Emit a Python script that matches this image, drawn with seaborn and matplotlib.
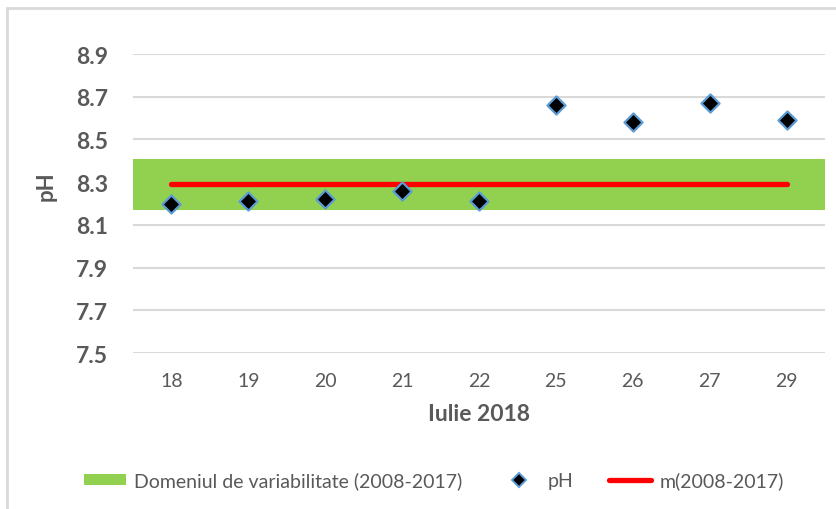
import numpy as np
import pandas as pd
import matplotlib.pyplot as plt
import seaborn as sns
from matplotlib.patches import Patch, Rectangle
from matplotlib.lines import Line2D

# data
days = ["18", "19", "20", "21", "22", "25", "26", "27", "29"]
ph_values = [8.20, 8.21, 8.22, 8.26, 8.21, 8.66, 8.58, 8.67, 8.59]
mean_2008_2017 = 8.29
band_low = 8.17
band_high = 8.41
y_ticks = [7.5, 7.7, 7.9, 8.1, 8.3, 8.5, 8.7, 8.9]

GREEN = "#92D050"
RED = "#FF0000"
GREY_TXT = "#595959"
GRID = "#D9D9D9"

sns.set_style("white")
plt.rcParams["font.family"] = ["Lato", "DejaVu Sans"]

df = pd.DataFrame({"day": days, "ph": ph_values, "mean": [mean_2008_2017] * len(days)})

fig = plt.figure(figsize=(8.37, 5.10), dpi=100)
ax = fig.add_axes([133 / 837, 1 - 354 / 510, (825 - 133) / 837, (354 - 55) / 510])

ax.axhspan(band_low, band_high, color=GREEN, lw=0, zorder=1)
sns.lineplot(data=df, x="day", y="mean", ax=ax, color=RED, lw=3.8,
             solid_capstyle="round", zorder=3)
sns.scatterplot(data=df, x="day", y="ph", ax=ax, marker="D", s=85,
                color="black", edgecolor="#5B9BD5", linewidth=1.6, zorder=4)

ax.set_xlim(-0.5, len(days) - 0.5)
ax.set_ylim(7.5, 8.9)
ax.set_yticks(y_ticks)
ax.set_yticklabels([f"{v:.1f}" for v in y_ticks], fontweight="bold", fontsize=16.5, color=GREY_TXT)
ax.tick_params(axis="x", labelsize=14, colors=GREY_TXT, length=0, pad=14)
ax.tick_params(axis="y", length=0, pad=18)
ax.yaxis.grid(True, color=GRID, lw=1.5, zorder=0)
ax.set_axisbelow(True)
for s in ax.spines.values():
    s.set_visible(False)

ax.set_xlabel("Iulie 2018", fontsize=16.5, fontweight="bold", color=GREY_TXT, labelpad=10)
ax.set_ylabel("pH", fontsize=16, fontweight="bold", color=GREY_TXT)
ax.yaxis.set_label_coords(-0.11, 0.56)

handles = [
    Patch(facecolor=GREEN, edgecolor="none"),
    Line2D([], [], marker="D", ls="none", color="black", markeredgecolor="#5B9BD5",
           markersize=7, markeredgewidth=1.4),
    Line2D([], [], color=RED, lw=3.8, solid_capstyle="round"),
]
labels = ["Domeniul de variabilitate (2008-2017)", "pH", "m(2008-2017)"]
fig.legend(handles, labels, loc="center", bbox_to_anchor=(0.518, 1 - 481 / 510), ncol=3,
           frameon=False, fontsize=14, labelcolor=GREY_TXT, handlelength=2.2,
           handleheight=0.5, handletextpad=0.4, columnspacing=1.8)

fig.patches.append(Rectangle((7.5 / 837, -0.1), 1.2, 1 - 9 / 510 + 0.1, transform=fig.transFigure,
                             fill=False, edgecolor=GRID, lw=2))

fig.savefig("out.png", dpi=100)
